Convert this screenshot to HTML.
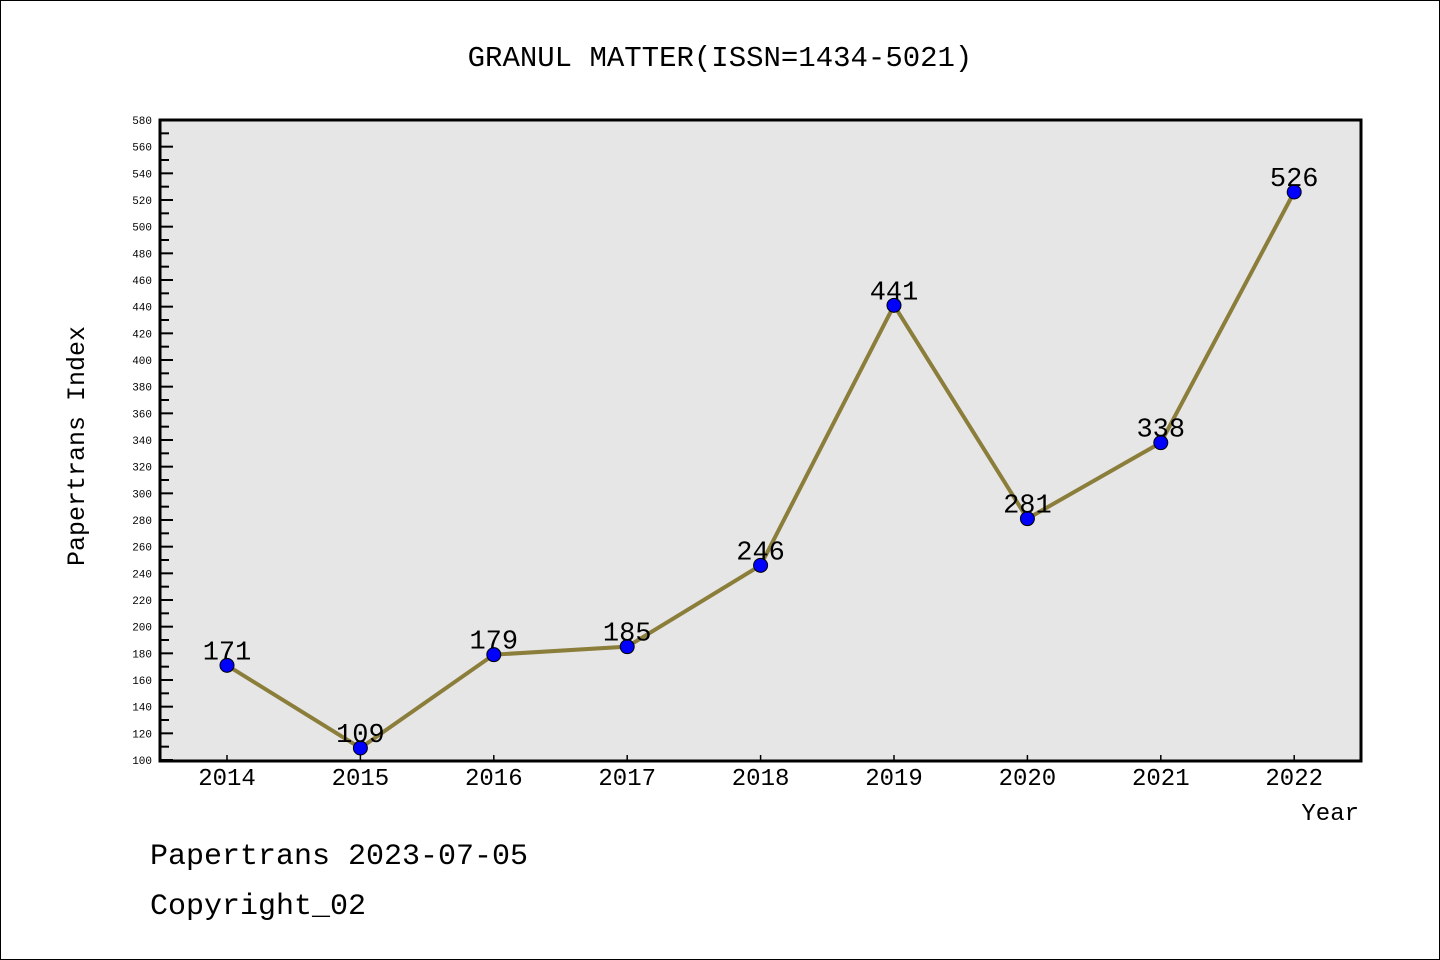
<!DOCTYPE html>
<html><head><meta charset="utf-8"><style>
body{margin:0;background:#fff}
svg{display:block;font-family:"Liberation Mono","DejaVu Sans Mono",monospace}
</style></head><body>
<svg id="c" width="1440" height="960" xmlns="http://www.w3.org/2000/svg">
<rect x="0.5" y="0.5" width="1439" height="959" fill="#fff" stroke="#000"/>
<text x="720" y="66" font-size="29" text-anchor="middle">GRANUL MATTER(ISSN=1434-5021)</text>
<rect x="160" y="120" width="1201" height="641" fill="#e6e6e6"/>
<g id="ticks"></g>
<g id="series"></g>
<rect x="160" y="120" width="1201" height="641" fill="none" stroke="#000" stroke-width="3"/>
<text transform="translate(84,446) rotate(-90)" font-size="25" text-anchor="middle">Papertrans Index</text>
<text x="1359" y="820" font-size="24" text-anchor="end">Year</text>
<text x="150" y="864" font-size="30">Papertrans 2023-07-05</text>
<text x="150" y="914" font-size="30">Copyright_02</text>
</svg>
<script>
const years=["2014","2015","2016","2017","2018","2019","2020","2021","2022"];
const values=[171,109,179,185,246,441,281,338,526];
const yTicks=[100,120,140,160,180,200,220,240,260,280,300,320,340,360,380,400,420,440,460,480,500,520,540,560,580];
const NS="http://www.w3.org/2000/svg";
const yMin=100,yMax=580,plotTop=120,plotBot=760;
function ys(v){return plotBot-(v-yMin)/(yMax-yMin)*(plotBot-plotTop);}
function xs(i){return 227+i*133.4;}
function mk(t,a,p){const e=document.createElementNS(NS,t);for(const k in a)e.setAttribute(k,a[k]);p.appendChild(e);return e;}
const tg=document.getElementById('ticks'),sg=document.getElementById('series');
yTicks.forEach(v=>{
  const y=ys(v);
  const t=mk('line',{x1:160,x2:173,y1:y,y2:y,stroke:'#000','stroke-width':2},tg);
  
  
  const l=mk('text',{x:152,y:y+4,'font-size':11,'text-anchor':'end'},tg);
  l.textContent=v;
  
  
  if(v<yMax){const m=mk('line',{x1:160,x2:169,y1:ys(v+10),y2:ys(v+10),stroke:'#000','stroke-width':2},tg);
  
  }
});
years.forEach((yr,i)=>{
  const x=xs(i);
  const t=mk('line',{x1:x,x2:x,y1:761,y2:755,stroke:'#000','stroke-width':1.5},tg);
  
  
  const l=mk('text',{x:x,y:785,'font-size':24,'text-anchor':'middle'},tg);
  l.textContent=yr;
  
  
});
const line=mk('polyline',{points:values.map((v,i)=>xs(i)+','+ys(v)).join(' '),fill:'none',stroke:'#8b7d3a','stroke-width':4},sg);


values.forEach((v,i)=>{
  const c=mk('circle',{cx:xs(i),cy:ys(v),r:7,fill:'#0000ff',stroke:'#000','stroke-width':1},sg);
  
  
  const l=mk('text',{x:xs(i),y:ys(v)-6,'font-size':27,'text-anchor':'middle'},sg);
  l.textContent=v;
  
  
});
</script>
</body></html>
